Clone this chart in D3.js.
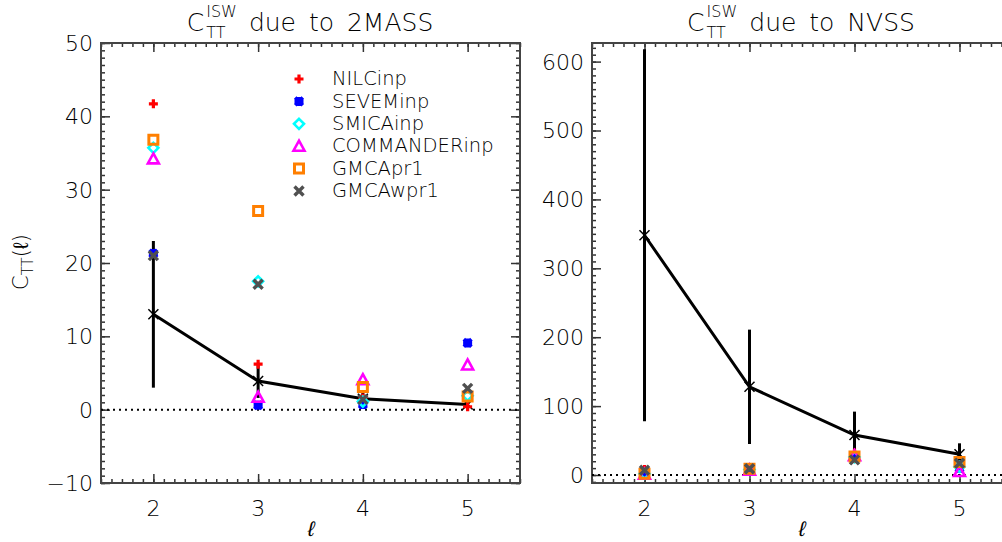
<!DOCTYPE html>
<html>
<head>
<meta charset="utf-8">
<script src="https://cdn.jsdelivr.net/npm/d3@7"></script>
<style>
  body { margin: 0; background: #fff; }
  svg text { font-family: "DejaVu Sans", "Liberation Sans", sans-serif; font-weight: 200; fill: #000; }
</style>
</head>
<body>
<div class="chart"></div>
<script>
//Multipoles
var ells = [2, 3, 4, 5];

//Method names for the legend
var methods = ["NILCinp", "SEVEMinp", "SMICAinp", "COMMANDERinp", "GMCApr1", "GMCAwpr1"];

//2MASS: expected ISW signal and its error
var massMean = [13.0, 3.9, 1.5, 0.7];
var massErr = [10.0, 2.3, 0.8, 0.5];

//2MASS: values per method (same order as methods)
var massNilc = [41.7, 6.2, 1.6, 0.4];
var massSevem = [21.3, 0.6, 0.7, 9.1];
var massSmica = [35.7, 17.5, 1.1, 1.9];
var massCommander = [34.2, 1.7, 4.1, 6.1];
var massGmca = [36.8, 27.1, 3.1, 1.8];
var massGmcaw = [21.0, 17.1, 1.4, 2.9];

//NVSS: expected ISW signal and its error
var nvssMean = [348, 128, 58, 30];
var nvssErr = [270, 83, 34, 16];

//NVSS: values per method
var nvssNilc = [8, 7, 32, 14];
var nvssSevem = [3, 8, 25, 10];
var nvssSmica = [2, 8, 26, 12];
var nvssCommander = [1, 7, 28, 5];
var nvssGmca = [2, 9, 27, 19];
var nvssGmcaw = [7, 9, 22, 17];

//Y axis ticks
var massTicks = [-10, 0, 10, 20, 30, 40, 50];
var nvssTicks = [0, 100, 200, 300, 400, 500, 600];

//Width and height
var w = 1002;
var h = 542;
var plotTop = 43, plotBottom = 483;

var svg = d3.select(".chart")
    .append("svg")
    .attr("width", w)
    .attr("height", h);

//Marker styles
var markerStyle = [
    { color: "#ff0000", path: "M-4.5,0H4.5M0,-4.5V4.5", width: 3.2 },
    { color: "#0000ff", path: "M-4.5,0H4.5M0,-4.5V4.5M-3.8,-3.8L3.8,3.8M3.8,-3.8L-3.8,3.8", width: 3.6 },
    { color: "#00ffff", path: "M0,-5L5,0L0,5L-5,0Z", width: 2.6 },
    { color: "#ff00ff", path: "M0,-5.5L5.5,4.5H-5.5Z", width: 2.6 },
    { color: "#ff7f00", path: "M-4.5,-4.5H4.5V4.5H-4.5Z", width: 3 },
    { color: "#505050", path: "M-4.5,-4.5L4.5,4.5M4.5,-4.5L-4.5,4.5", width: 3.4 }
];

function drawPanel(p) {
    var g = svg.append("g");

    var xScale = d3.scaleLinear().domain([1.5, 5.5]).range([p.left, p.right]);
    var yScale = d3.scaleLinear().domain(p.yDomain).range([plotBottom, plotTop]);

    //Minor and major ticks on all four sides
    var xMinor = d3.range(15, 56).map(d => d / 10);
    var yMinor = d3.range(Math.ceil(p.yDomain[0] / p.minor), Math.floor(p.yDomain[1] / p.minor) + 1).map(d => d * p.minor);

    g.append("g").attr("transform", "translate(0," + plotBottom + ")")
        .call(d3.axisTop(xScale).tickValues(xMinor).tickSize(4).tickFormat(""));
    g.append("g").attr("transform", "translate(0," + plotBottom + ")")
        .call(d3.axisTop(xScale).tickValues(ells).tickSize(9).tickFormat(""));
    g.append("g").attr("transform", "translate(0," + plotTop + ")")
        .call(d3.axisBottom(xScale).tickValues(xMinor).tickSize(4).tickFormat(""));
    g.append("g").attr("transform", "translate(0," + plotTop + ")")
        .call(d3.axisBottom(xScale).tickValues(ells).tickSize(9).tickFormat(""));
    g.append("g").attr("transform", "translate(" + p.left + ",0)")
        .call(d3.axisRight(yScale).tickValues(yMinor).tickSize(4).tickFormat(""));
    g.append("g").attr("transform", "translate(" + p.left + ",0)")
        .call(d3.axisRight(yScale).tickValues(p.ticks).tickSize(9).tickFormat(""));
    g.append("g").attr("transform", "translate(" + p.right + ",0)")
        .call(d3.axisLeft(yScale).tickValues(yMinor).tickSize(4).tickFormat(""));
    g.append("g").attr("transform", "translate(" + p.right + ",0)")
        .call(d3.axisLeft(yScale).tickValues(p.ticks).tickSize(9).tickFormat(""));
    g.selectAll(".domain").remove();
    g.selectAll(".tick line").attr("stroke", "#333").attr("stroke-width", 1.5);

    //Frame
    g.append("rect")
        .attr("x", p.left).attr("y", plotTop)
        .attr("width", p.right - p.left).attr("height", plotBottom - plotTop)
        .attr("fill", "none").attr("stroke", "#444").attr("stroke-width", 2);

    //Tick labels
    g.selectAll(".ylab").data(p.ticks).enter().append("text")
        .attr("x", p.left - 8)
        .attr("y", d => yScale(d))
        .attr("dy", "0.36em")
        .attr("text-anchor", "end")
        .style("font-size", "22px")
        .text(d => d < 0 ? "\u2212" + Math.abs(d) : d);
    g.selectAll(".xlab").data(ells).enter().append("text")
        .attr("x", d => xScale(d))
        .attr("y", 516)
        .attr("text-anchor", "middle")
        .style("font-size", "22px")
        .text(d => d);
    g.append("text")
        .attr("x", p.labelX)
        .attr("y", 536)
        .attr("text-anchor", "middle")
        .attr("transform", "skewX(-12) translate(" + (536 * Math.tan(12 * Math.PI / 180)) + ",0)")
        .style("font-size", "21px")
        .text("\u2113");

    //Title: C with ISW superscript and TT subscript
    var t = g.append("g");
    var c = t.append("text").attr("x", 0).attr("y", 31).style("font-size", "25px").text("C");
    var cw = c.node().getComputedTextLength();
    var sup = t.append("text").attr("x", cw + 2).attr("y", 17).style("font-size", "16px").text("ISW");
    t.append("text").attr("x", cw + 2).attr("y", 38).style("font-size", "16px").text("TT");
    var sw = sup.node().getComputedTextLength();
    var rest = t.append("text").attr("x", cw + sw + 14).attr("y", 31).style("font-size", "25px")
        .style("word-spacing", "5px").text("due to " + p.name);
    var tw = cw + sw + 14 + rest.node().getComputedTextLength();
    t.attr("transform", "translate(" + (p.titleX - tw / 2) + ",0)");

    //Dotted zero line
    g.append("line")
        .attr("x1", p.left).attr("x2", p.right)
        .attr("y1", yScale(0)).attr("y2", yScale(0))
        .attr("stroke", "#000").attr("stroke-width", 2)
        .attr("stroke-dasharray", "2,4");

    var marks = g.append("g");

    //Error bars
    marks.selectAll(".err").data(ells).enter().append("line")
        .attr("x1", d => xScale(d)).attr("x2", d => xScale(d))
        .attr("y1", (d, i) => yScale(Math.min(p.mean[i] + p.err[i], p.yDomain[1])))
        .attr("y2", (d, i) => yScale(p.mean[i] - p.err[i]))
        .attr("stroke", "#000").attr("stroke-width", 3);

    //Mean line
    var line = d3.line().x(d => xScale(d[0])).y(d => yScale(d[1]));
    marks.append("path")
        .datum(ells.map((d, i) => [d, p.mean[i]]))
        .attr("d", line)
        .attr("fill", "none").attr("stroke", "#000").attr("stroke-width", 3);

    marks.selectAll(".mean").data(ells).enter().append("path")
        .attr("transform", (d, i) => "translate(" + xScale(d) + "," + yScale(p.mean[i]) + ")")
        .attr("d", "M-5,-5L5,5M5,-5L-5,5")
        .attr("stroke", "#000").attr("stroke-width", 1.5);

    //Method markers
    p.values.forEach((vals, m) => {
        var s = markerStyle[m];
        marks.selectAll(".m" + m).data(ells).enter().append("path")
            .attr("transform", (d, i) => "translate(" + xScale(d) + "," + yScale(vals[i]) + ")")
            .attr("d", s.path)
            .attr("fill", "none")
            .attr("stroke", s.color)
            .attr("stroke-width", s.width);
    });

    return g;
}

drawPanel({
    name: "2MASS", left: 101, right: 520, titleX: 310, labelX: 310,
    yDomain: [-10, 50], ticks: massTicks, minor: 1,
    mean: massMean, err: massErr,
    values: [massNilc, massSevem, massSmica, massCommander, massGmca, massGmcaw]
});

drawPanel({
    name: "NVSS", left: 592, right: 1012, titleX: 801, labelX: 801,
    yDomain: [-11.6, 627], ticks: nvssTicks, minor: 10,
    mean: nvssMean, err: nvssErr,
    values: [nvssNilc, nvssSevem, nvssSmica, nvssCommander, nvssGmca, nvssGmcaw]
});

//Legend
var legend = svg.selectAll(".legend")
    .data(methods)
    .enter()
    .append("g")
    .attr("transform", (d, i) => "translate(299," + (79 + i * 22.4) + ")");

legend.append("path")
    .attr("d", (d, i) => markerStyle[i].path)
    .attr("fill", "none")
    .attr("stroke", (d, i) => markerStyle[i].color)
    .attr("stroke-width", (d, i) => markerStyle[i].width);

legend.append("text")
    .attr("x", 33)
    .attr("dy", "0.32em")
    .style("font-size", "19.5px")
    .text(d => d);

//Y axis title
svg.append("text")
    .attr("transform", "translate(28,262) rotate(-90)")
    .attr("text-anchor", "middle")
    .style("font-size", "21px")
    .html("C<tspan dy='5' style='font-size:15px'>TT</tspan><tspan dy='-5'>(\u2113)</tspan>");
</script>
</body>
</html>
